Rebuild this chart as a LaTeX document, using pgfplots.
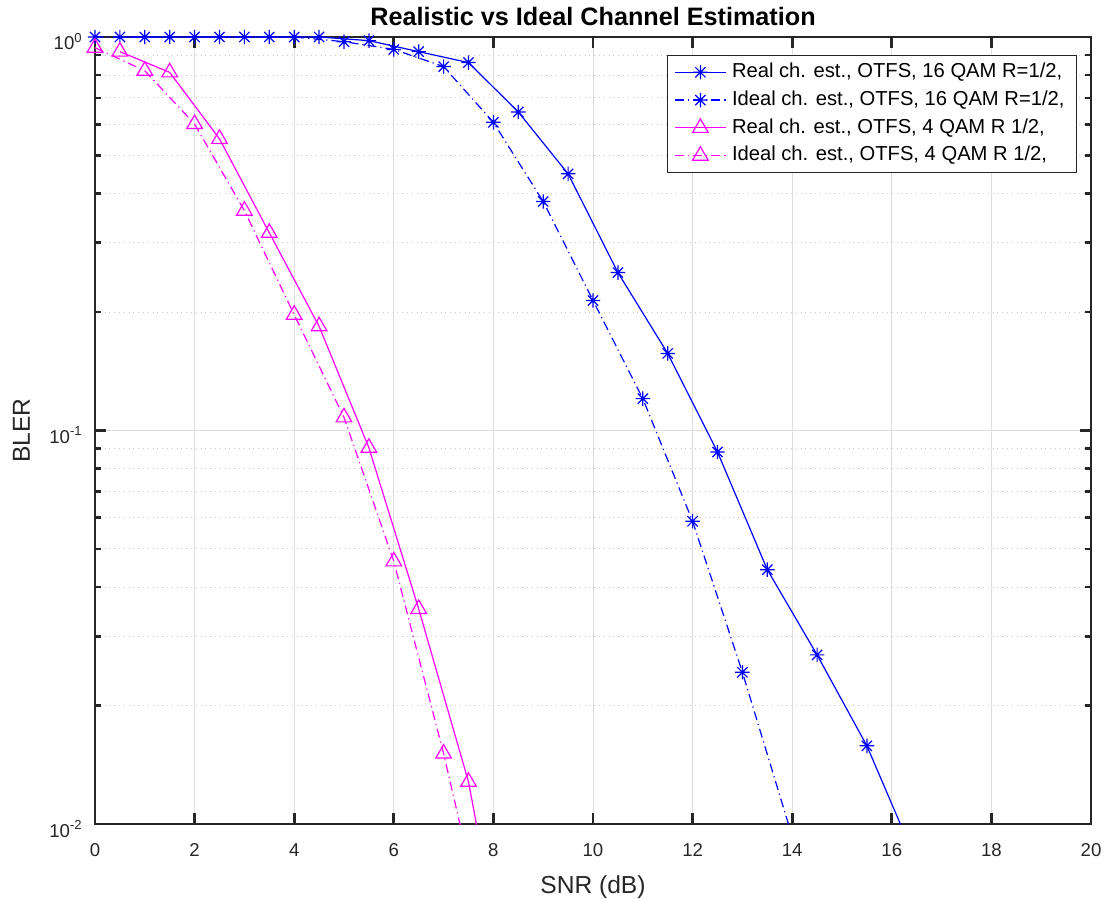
\documentclass[border=0pt]{standalone}
\usepackage{fontspec}
\setmainfont{Liberation Sans}
\usepackage{pgfplots}
\pgfplotsset{compat=1.18}
\definecolor{axgray}{RGB}{38,38,38}
\definecolor{gridgray}{RGB}{223,223,223}
\definecolor{mgridgray}{RGB}{200,200,200}
\definecolor{mblue}{RGB}{0,0,255}
\definecolor{mmag}{RGB}{255,0,255}
\pgfdeclareplotmark{mstar}{%
  \pgfpathmoveto{\pgfqpoint{-\pgfplotmarksize}{0pt}}\pgfpathlineto{\pgfqpoint{\pgfplotmarksize}{0pt}}%
  \pgfpathmoveto{\pgfqpoint{0pt}{-\pgfplotmarksize}}\pgfpathlineto{\pgfqpoint{0pt}{\pgfplotmarksize}}%
  \pgfpathmoveto{\pgfqpoint{-0.707\pgfplotmarksize}{-0.707\pgfplotmarksize}}\pgfpathlineto{\pgfqpoint{0.707\pgfplotmarksize}{0.707\pgfplotmarksize}}%
  \pgfpathmoveto{\pgfqpoint{-0.707\pgfplotmarksize}{0.707\pgfplotmarksize}}\pgfpathlineto{\pgfqpoint{0.707\pgfplotmarksize}{-0.707\pgfplotmarksize}}%
  \pgfusepathqstroke}
\begin{document}
\begin{tikzpicture}
\begin{axis}[
  width=498pt, height=393.5pt, scale only axis,
  xmin=0, xmax=20, ymin=0.01, ymax=1, ymode=log,
  xtick={0,2,...,20}, xticklabels={0,2,4,6,8,10,12,14,16,18,20},
  ytick={0.01,0.1,1},
  yticklabels={10\textsuperscript{-2},10\textsuperscript{-1},10\textsuperscript{0}},
  minor ytick={0.02,0.03,0.04,0.05,0.06,0.07,0.08,0.09,0.2,0.3,0.4,0.5,0.6,0.7,0.8,0.9},
  xmajorgrids, ymajorgrids, yminorgrids,
  major grid style={gridgray, line width=0.5pt},
  minor grid style={mgridgray, dotted, line width=0.5pt},
  axis line style={axgray, line width=1.35pt},
  every tick/.style={axgray, line width=1.35pt},
  major tick length=5.5pt, minor tick length=3pt,
  tick align=inside,
  xticklabel style={font=\fontsize{9.3}{11}\selectfont, text=axgray, anchor=base, yshift=-16.3pt},
  yticklabel style={font=\fontsize{9.3}{11}\selectfont, text=axgray, anchor=base east, inner sep=0pt, xshift=-6pt, yshift=-6.5pt},
  title={\textbf{Realistic vs Ideal Channel Estimation}},
  title style={font=\fontsize{12.6}{15}\selectfont, at={(axis description cs:0.5,1)}, anchor=base, yshift=-0.5pt, inner sep=0pt},
  xlabel={SNR (dB)},
  xlabel style={font=\fontsize{12.3}{14}\selectfont, text=axgray, at={(axis description cs:0.5,0)}, anchor=base, yshift=-34.7pt, inner sep=0pt},
  ylabel={BLER},
  ylabel style={font=\fontsize{12.3}{14}\selectfont, text=axgray, at={([xshift=-32.5pt]axis description cs:0,0.5)}, anchor=base, inner sep=0pt},
  legend style={at={(axis description cs:1,1)}, anchor=north east, xshift=-7pt, yshift=-9pt,
    draw=axgray, line width=0.5pt, fill=white,
    font=\fontsize{10.1}{12}\selectfont,
    inner xsep=3.25pt, inner ysep=3.7pt, row sep=4.5pt,
    nodes={inner xsep=2.75pt, inner ysep=0pt, text height=7.3pt, text depth=2.1pt}},
  legend cell align=left,
  legend image code/.code={\draw[#1, mark indices={2}] plot coordinates {(0pt,0pt) (12.75pt,0pt) (25.5pt,0pt)};},
]
\addplot[mblue, line width=0.6pt, mark=mstar, mark size=3.6pt, mark options={solid}, mark indices={1,...,16}] coordinates {
 (0.5,1) (1.5,1) (2.5,1) (3.5,1) (4.5,1) (5.5,0.979) (6.5,0.918) (7.5,0.861) (8.5,0.645) (9.5,0.449)
 (10.5,0.252) (11.5,0.157) (12.5,0.0882) (13.5,0.0443) (14.5,0.0269) (15.5,0.0158) (16.5,0.0080)};
\addlegendentry{Real ch. est., OTFS, 16 QAM R=1/2,}
\addplot[mblue, line width=0.6pt, dash pattern=on 4.5pt off 2pt on 0.6pt off 2pt, mark=mstar, mark size=3.6pt, mark options={solid}, mark indices={1,...,14}] coordinates {
 (0,1) (1,1) (2,1) (3,1) (4,1) (5,0.973) (6,0.930) (7,0.841) (8,0.607) (9,0.382)
 (10,0.214) (11,0.1205) (12,0.0588) (13,0.0243) (14,0.0093)};
\addlegendentry{Ideal ch. est., OTFS, 16 QAM R=1/2,}
\addplot[mmag, line width=0.6pt, mark=triangle, mark size=4.5pt, mark options={solid}, mark indices={1,...,8}] coordinates {
 (0.5,0.918) (1.5,0.813) (2.5,0.551) (3.5,0.318) (4.5,0.184) (5.5,0.0904) (6.5,0.0352) (7.5,0.0128) (8.5,0.0027)};
\addlegendentry{Real ch. est., OTFS, 4 QAM R 1/2,}
\addplot[mmag, line width=0.6pt, dash pattern=on 4.5pt off 2pt on 0.6pt off 2pt, mark=triangle, mark size=4.5pt, mark options={solid}, mark indices={1,...,8}] coordinates {
 (0,0.939) (1,0.821) (2,0.601) (3,0.362) (4,0.197) (5,0.108) (6,0.0465) (7,0.0151) (8,0.0043)};
\addlegendentry{Ideal ch. est., OTFS, 4 QAM R 1/2,}
\end{axis}
\path ([shift={(-47.5pt,-37.5pt)}]current axis.south west) rectangle ([shift={(9pt,18.5pt)}]current axis.north east);
\end{tikzpicture}
\end{document}
